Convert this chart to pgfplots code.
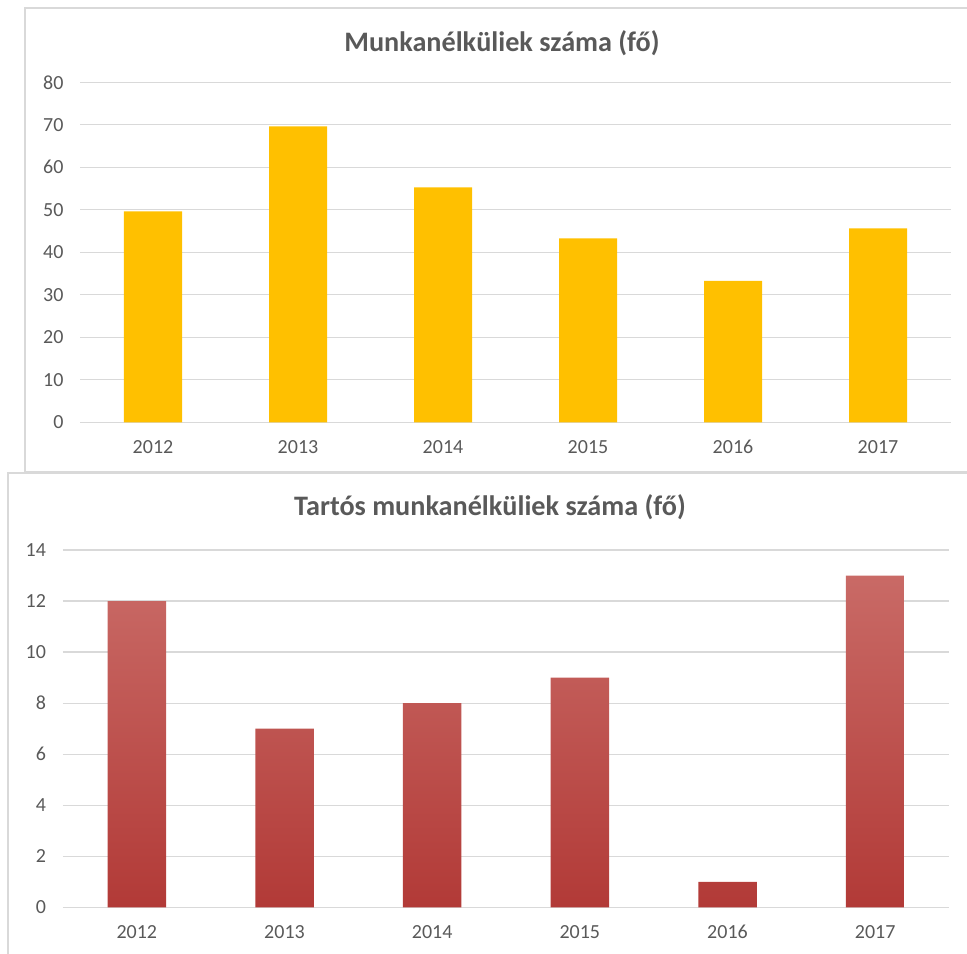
\documentclass[border=0pt]{standalone}
\usepackage{fontspec}
\setmainfont{Carlito}
\usepackage{pgfplots}
\pgfplotsset{compat=1.18}
\definecolor{gridgray}{HTML}{D9D9D9}
\definecolor{txtgray}{HTML}{595959}
\definecolor{gold}{HTML}{FFC000}
\definecolor{redtop}{HTML}{C96A66}
\definecolor{redmid}{HTML}{C0504D}
\definecolor{redbot}{HTML}{B23A37}

\pgfplotsset{
  excelbar/.style={
    scale only axis,
    xmin=-0.5, xmax=5.5, ymin=0,
    xtick={0,...,5},
    xticklabels={2012,2013,2014,2015,2016,2017},
    separate axis lines,
    axis x line*=bottom, axis y line*=left,
    y axis line style={draw=none},
    x axis line style={gridgray, line width=0.6pt},
    major tick length=0pt,
    ymajorgrids, grid style={gridgray, line width=0.6pt},
    tick label style={font=\fontsize{10}{12}\selectfont, text=txtgray},
    /pgf/number format/assume math mode=true,
    yticklabel style={anchor=east, xshift=-5pt},
    xticklabel style={anchor=base, yshift=-15.6pt},
  },
}

\begin{document}
\begin{tikzpicture}
% 1px = 0.5pt, picture 967x953 px
\path[use as bounding box] (0,0) rectangle (483.5pt,476.5pt);

% chart frames
\draw[gridgray, line width=1pt] (490pt,472.5pt) -- (12.5pt,472.5pt) -- (12.5pt,240.5pt) -- (490pt,240.5pt);
\draw[gridgray, line width=1pt] (490pt,240pt) -- (4pt,240pt) -- (4pt,-5pt);

% top chart
\begin{axis}[excelbar,
    at={(40.25pt,265.35pt)}, anchor=south west,
    width=435pt, height=170pt,
    ymax=80, ytick={0,10,...,80},
]
\addplot[ybar, bar width=29pt, fill=gold, draw=none] coordinates {
  (0,49.6) (1,69.6) (2,55.3) (3,43.3) (4,33.3) (5,45.6)
};
\end{axis}
\node[font=\bfseries\fontsize{14.1}{16}\selectfont, text=txtgray] at (251pt,455pt) {Munkanélküliek száma (fő)};

% bottom chart
\begin{axis}[excelbar,
    at={(31.5pt,22.85pt)}, anchor=south west,
    width=443pt, height=178.65pt,
    ymax=14, ytick={0,2,...,14},
]
\addplot[ybar, bar width=29.25pt, draw=none,
    top color=redtop, middle color=redmid, bottom color=redbot] coordinates {
  (0,12) (1,7) (2,8) (3,9) (4,1) (5,13)
};
\end{axis}
\node[font=\bfseries\fontsize{14.1}{16}\selectfont, text=txtgray] at (245pt,223pt) {Tartós munkanélküliek száma (fő)};
\end{tikzpicture}
\end{document}
